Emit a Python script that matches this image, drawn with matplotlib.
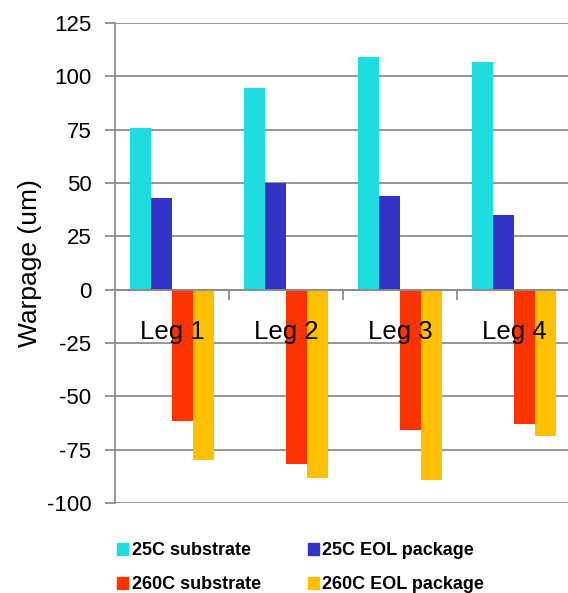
import numpy as np
import matplotlib.pyplot as plt
from matplotlib.patches import Patch

plt.rcParams['font.family'] = ['Liberation Sans', 'DejaVu Sans']
plt.rcParams['axes.unicode_minus'] = False

# Warpage per leg (um)
legs = ["Leg 1", "Leg 2", "Leg 3", "Leg 4"]
sub_25c = [76, 94.5, 109, 106.5]
eol_25c = [43, 50, 44, 35]
sub_260c = [-61.5, -81.5, -66, -63]
eol_260c = [-80, -88.5, -89, -68.5]

series = [
    ("25C substrate", sub_25c, "#1edde0"),
    ("25C EOL package", eol_25c, "#3333c8"),
    ("260C substrate", sub_260c, "#ff3300"),
    ("260C EOL package", eol_260c, "#ffc000"),
]

GRID = "#8c8c8c"

fig = plt.figure(figsize=(5.68, 5.93), dpi=100)
ax = fig.add_axes([115 / 568, 1 - 503 / 593, 456 / 568, 480 / 593])

x = np.arange(len(legs))
width = 0.185
for k, (name, vals, color) in enumerate(series):
    ax.bar(x + (k - 1.5) * width, vals, width, color=color, label=name, zorder=3)

ax.set_xlim(-0.5, len(legs) - 0.5)
ax.set_ylim(-100, 125)
ax.set_yticks(np.arange(-100, 126, 25))
ax.yaxis.grid(True, color=GRID, linewidth=1.3, zorder=0)

# category axis sits at zero, with dividers between legs
ax.spines['bottom'].set_position(('data', 0))
ax.spines['bottom'].set_color(GRID)
ax.spines['bottom'].set_linewidth(1.3)
ax.spines['bottom'].set_zorder(4)
ax.spines['left'].set_color(GRID)
ax.spines['left'].set_linewidth(1.3)
ax.spines['top'].set_visible(False)
ax.spines['right'].set_visible(False)
ax.set_xticks(x[:-1] + 0.5)
ax.set_xticklabels([])
ax.tick_params(axis='x', length=7, width=1.3, color=GRID, direction='out')
ax.tick_params(axis='y', length=7, width=1.3, color=GRID, labelsize=16, pad=10)

for i, name in enumerate(legs):
    ax.text(i, -23, name, ha='center', va='baseline', fontsize=18.5, zorder=5)

ax.set_ylabel("Warpage (um)", fontsize=19)
ax.yaxis.set_label_coords(-0.16, 0.5)

handles = [Patch(color=c, label=n) for n, _, c in
           [series[0], series[2], series[1], series[3]]]
fig.legend(handles=handles, ncol=2, loc='upper left',
           bbox_to_anchor=(110 / 568, 1 - 535 / 593), frameon=False,
           prop={'size': 13, 'weight': 'bold'}, handlelength=0.6,
           handleheight=0.6, handletextpad=0.2, labelspacing=0.95,
           columnspacing=2.6, borderaxespad=0)

fig.savefig("out.png", dpi=100)
